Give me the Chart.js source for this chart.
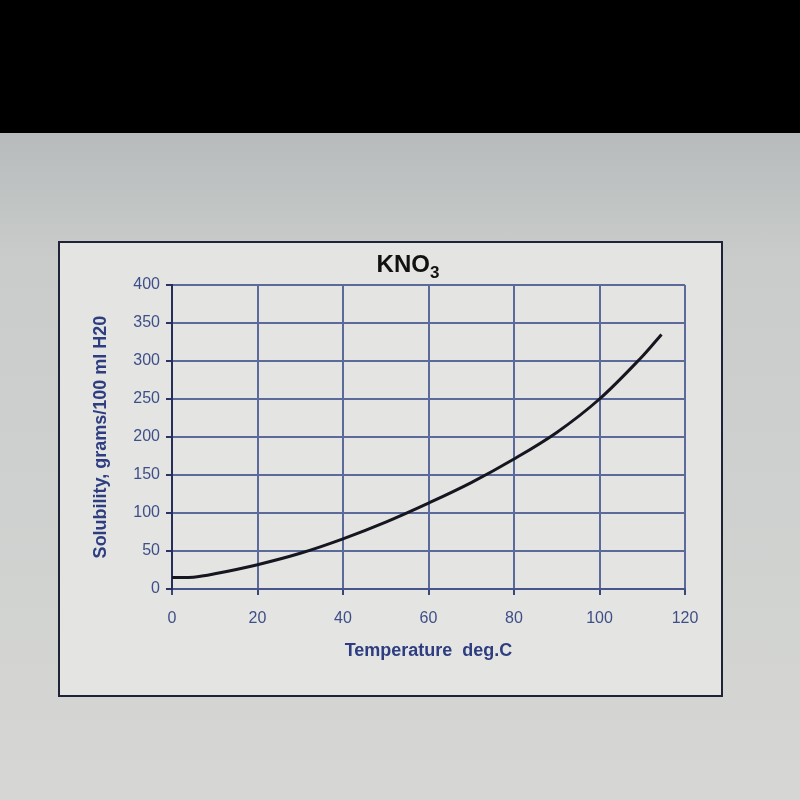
<!DOCTYPE html>
<html>
<head>
<meta charset="utf-8">
<script src="https://cdn.jsdelivr.net/npm/chart.js@4"></script>
<style>
    html, body { margin: 0; padding: 0; }
    body {
        width: 800px;
        height: 800px;
        overflow: hidden;
        background: linear-gradient(#b7bbbb 0px, #b7bbbb 133px, #c9cccb 260px, #d6d7d5 800px);
        position: relative;
    }
    #band {
        position: absolute; left: 0; top: 0; width: 800px; height: 133px; background: #000;
    }
    #box {
        position: absolute; left: 58px; top: 241px; width: 661px; height: 452px;
        border: 2px solid #1f2338;
        background: #e4e5e2;
    }
    #box canvas { display: block; }
</style>
</head>
<body>
<div id="band"></div>
<div id="box"><canvas id="chart" width="661" height="452"></canvas></div>
<script>
// KNO3 solubility curve
const temperatures = [0, 5, 10, 20, 30, 40, 50, 60, 70, 80, 90, 100, 110, 114.5];
const solubility = [15, 15.5, 20, 32, 47, 66, 88, 113, 140, 171, 206, 250, 306, 335];

const titleMain = "KNO";
const titleSub = "3";
const xTitle = "Temperature  deg.C";
const yTitle = "Solubility, grams/100 ml H20";

const fontFamily = "'Liberation Sans', Arial, sans-serif";
const axisBlue = "#3e4f88";
const gridBlue = "#5c699b";

// title with a subscript, drawn as text on the canvas
const subTitlePlugin = {
    id: "subTitle",
    afterDraw(chart) {
        const ctx = chart.ctx;
        ctx.save();
        ctx.fillStyle = "#111";
        ctx.textBaseline = "alphabetic";
        ctx.font = "bold 24px " + fontFamily;
        const w1 = ctx.measureText(titleMain).width;
        ctx.font = "bold 17px " + fontFamily;
        const w2 = ctx.measureText(titleSub).width;
        const x = 348 - (w1 + w2) / 2;
        ctx.font = "bold 24px " + fontFamily;
        ctx.fillText(titleMain, x, 29);
        ctx.font = "bold 17px " + fontFamily;
        ctx.fillText(titleSub, x + w1, 35);
        ctx.restore();
    }
};

new Chart(document.getElementById("chart"), {
    type: "line",
    data: {
        datasets: [{
            data: temperatures.map((t, i) => ({ x: t, y: solubility[i] })),
            borderColor: "#15161f",
            borderWidth: 3,
            tension: 0.35,
            pointRadius: 0,
            fill: false
        }]
    },
    options: {
        responsive: false,
        animation: false,
        layout: { padding: { top: 42, right: 36, bottom: 33, left: 30 } },
        plugins: {
            legend: { display: false },
            tooltip: { enabled: false }
        },
        scales: {
            x: {
                type: "linear",
                min: 0,
                max: 120,
                afterFit: (scale) => { scale.height = 73; },
                ticks: {
                    stepSize: 20,
                    padding: 14,
                    color: axisBlue,
                    font: { family: fontFamily, size: 16 }
                },
                grid: { color: gridBlue, lineWidth: 2, tickLength: 6, tickColor: "#3b4677" },
                border: { color: "#48558a", width: 2 },
                title: {
                    display: true,
                    text: xTitle,
                    color: "#2d3d80",
                    padding: { top: 0, bottom: 0 },
                    font: { family: fontFamily, size: 18, weight: "bold" }
                }
            },
            y: {
                min: 0,
                max: 400,
                afterFit: (scale) => { scale.width = 82; },
                ticks: {
                    stepSize: 50,
                    padding: 6,
                    color: axisBlue,
                    font: { family: fontFamily, size: 16 }
                },
                grid: { color: gridBlue, lineWidth: 2, tickLength: 6, tickColor: "#2a3363" },
                border: { color: "#262f5c", width: 2 },
                title: {
                    display: true,
                    text: yTitle,
                    color: "#2d3d80",
                    padding: { top: 0, bottom: 0 },
                    font: { family: fontFamily, size: 18, weight: "bold" }
                }
            }
        }
    },
    plugins: [subTitlePlugin]
});
</script>
</body>
</html>
